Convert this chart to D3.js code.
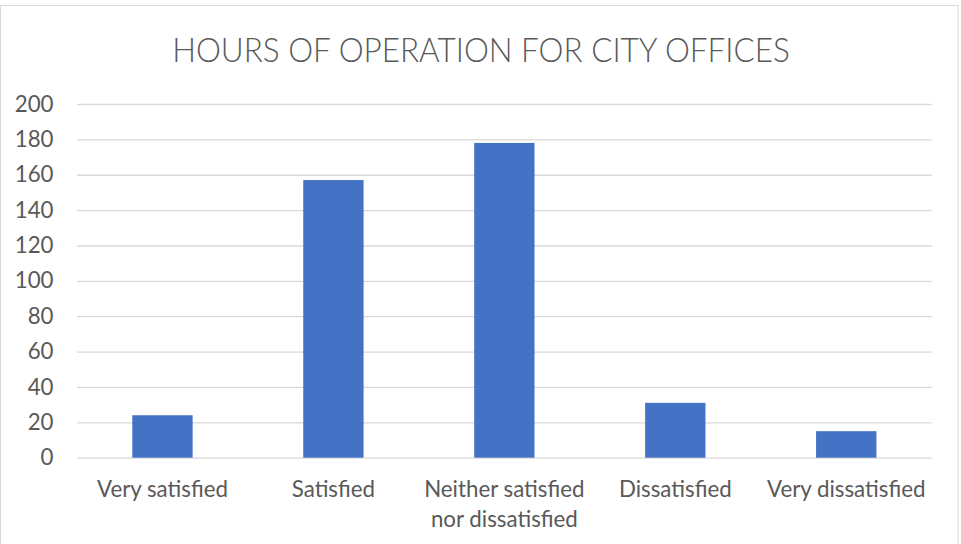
<!DOCTYPE html>
<html>
<head>
<meta charset="utf-8">
<script src="https://cdn.jsdelivr.net/npm/d3@7"></script>
<style>
  html, body { margin: 0; padding: 0; background: #fff; }
  svg { display: block; }
</style>
</head>
<body>
<svg id="chart" width="961" height="544"></svg>
<script>
const title = "HOURS OF OPERATION FOR CITY OFFICES";
const categories = ["Very satisfied", "Satisfied", "Neither satisfied nor dissatisfied", "Dissatisfied", "Very dissatisfied"];
const categoryLines = [["Very satisfied"], ["Satisfied"], ["Neither satisfied", "nor dissatisfied"], ["Dissatisfied"], ["Very dissatisfied"]];
const values = [24, 157, 178, 31, 15];
const yTicks = [0, 20, 40, 60, 80, 100, 120, 140, 160, 180, 200];

const W = 961, H = 544;
const svg = d3.select("#chart");
const textColor = "#595959", gridColor = "#D9D9D9", barColor = "#4472C4";
const font = "Lato, 'Open Sans', sans-serif";

svg.append("rect").attr("x", 0).attr("y", 0).attr("width", W).attr("height", H).attr("fill", "#fff");
svg.append("rect").attr("x", 0.5).attr("y", 5.5).attr("width", 957.5).attr("height", 560)
  .attr("fill", "none").attr("stroke", gridColor).attr("stroke-width", 1);

const plot = { left: 77, right: 931.7, top: 104, bottom: 457.7 };
const x = d3.scaleBand().domain(categories).range([plot.left, plot.right]).padding(0);
const y = d3.scaleLinear().domain([0, 200]).range([plot.bottom, plot.top]);

// Gridlines
const grid = svg.append("g").attr("transform", `translate(${plot.left},0)`)
  .call(d3.axisLeft(y).tickValues(yTicks).tickSize(-(plot.right - plot.left)).tickFormat(""));
grid.select(".domain").remove();
grid.selectAll(".tick line").attr("stroke", gridColor).attr("stroke-width", 1.3);

// Y tick labels
const yAxis = svg.append("g").attr("transform", `translate(53.5,0)`)
  .call(d3.axisLeft(y).tickValues(yTicks).tickSize(0).tickPadding(0));
yAxis.select(".domain").remove();
yAxis.selectAll(".tick text").attr("fill", textColor).attr("font-family", font).attr("font-size", 20);

// Bars
const barFrac = 0.353;
svg.append("g").selectAll("rect").data(values).join("rect")
  .attr("x", (d, i) => x(categories[i]) + x.bandwidth() * (1 - barFrac) / 2)
  .attr("width", x.bandwidth() * barFrac)
  .attr("y", d => y(d))
  .attr("height", d => y(0) - y(d))
  .attr("fill", barColor);

// Category labels
const catG = svg.append("g");
const catTexts = catG.selectAll("text").data(categoryLines).join("text")
  .attr("x", (d, i) => x(categories[i]) + x.bandwidth() / 2)
  .attr("y", 496.7)
  .attr("text-anchor", "middle")
  .attr("fill", textColor)
  .attr("font-family", font)
  .attr("font-size", 20);
catTexts.selectAll("tspan").data(d => d).join("tspan")
  .attr("x", function() { return this.parentNode.getAttribute("x"); })
  .attr("dy", (d, j) => j === 0 ? 0 : 30)
  .text(d => d);

// Title
const titleG = svg.append("g").attr("transform", "translate(481,61.5)");
const titleText = titleG.append("text")
  .attr("x", 0).attr("y", 0)
  .attr("text-anchor", "middle")
  .attr("fill", textColor)
  .attr("font-family", font)
  .attr("font-weight", 300)
  .attr("font-size", 30)
  .text(title);

// Fit font sizes to reference text widths
function fitSize(sel, measureNode, target, base) {
  const w = measureNode.getComputedTextLength();
  const s = base * target / w;
  sel.attr("font-size", s);
  return s;
}
const firstCat = catTexts.nodes()[0];
const catSize = fitSize(catTexts, firstCat, 131, 20);
yAxis.selectAll(".tick text").attr("font-size", catSize);
const titleSize = fitSize(titleText, titleText.node(), 618, 30);
// stretch vertically so cap height matches the reference (~23.5px)
const capRatio = 0.7165;
const k = 23.5 / (titleSize * capRatio);
titleText.attr("transform", `scale(1,${k})`);
</script>
</body>
</html>
